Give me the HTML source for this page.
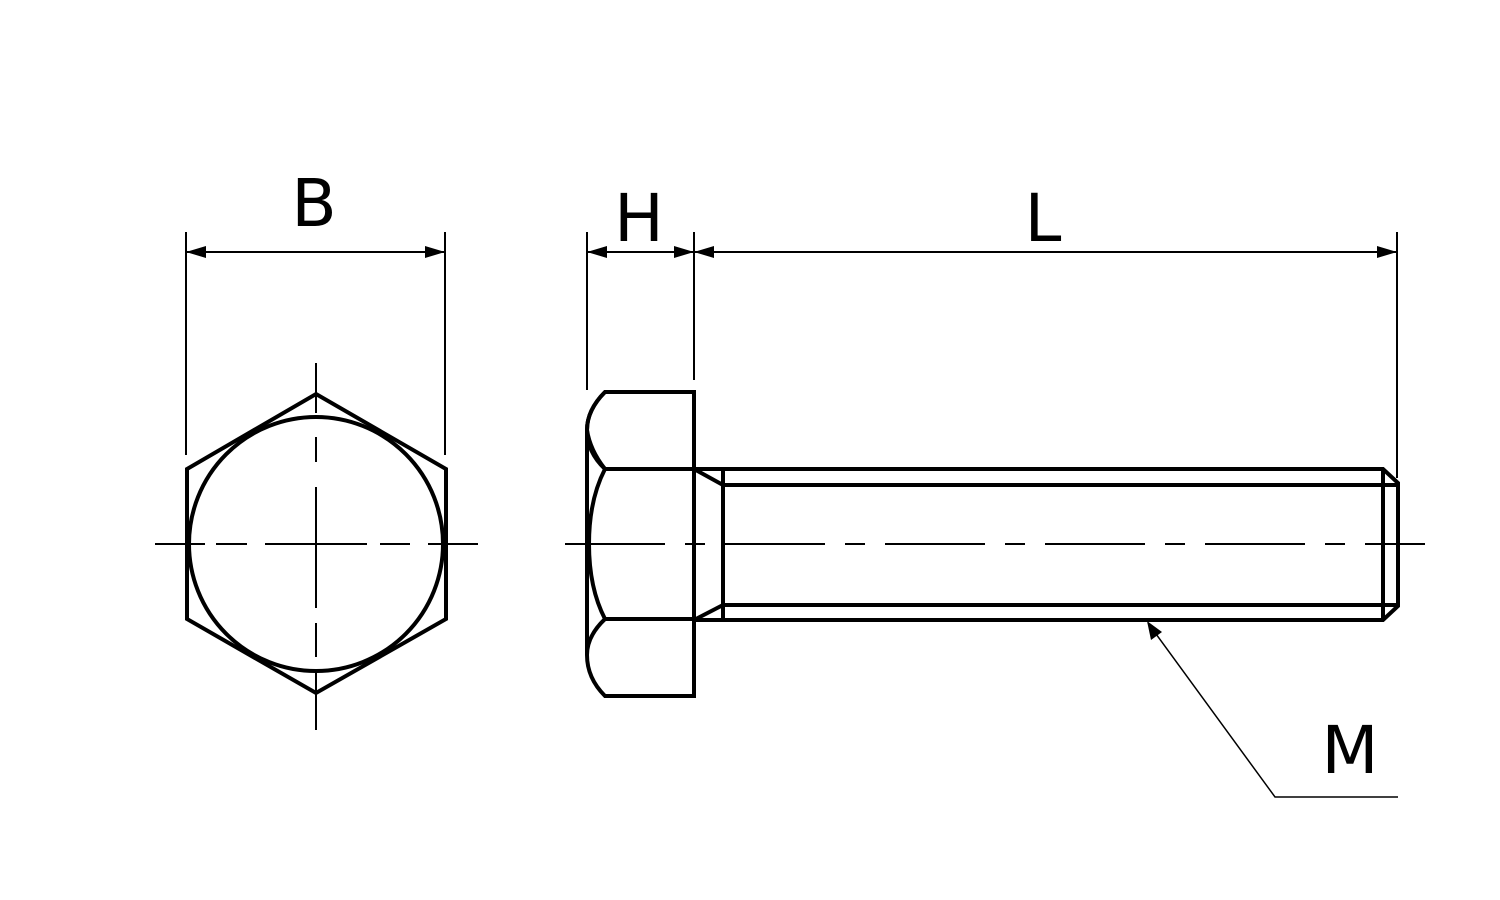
<!DOCTYPE html>
<html><head><meta charset="utf-8"><style>html,body{margin:0;padding:0;background:#fff}svg{display:block}</style></head>
<body>
<svg width="1500" height="900" viewBox="0 0 1500 900" xmlns="http://www.w3.org/2000/svg">
<rect width="1500" height="900" fill="#fff"/>
<g fill="none" stroke="#000" stroke-width="4" stroke-linejoin="miter">
  <!-- hex view -->
  <polygon points="316,394 446,469 446,619 316,693 187,619 187,469"/>
  <circle cx="316" cy="544" r="127"/>
  <!-- side head -->
  <path d="M694,392 L605,392 Q587,410 587,430 L587,655 Q587,678 605,696 L694,696 Z"/>
  <path d="M605,392 Q587,410 587,430 Q587,452 605,469"/>
  <path d="M605,619 Q587,636 587,655"/>
  <path d="M587,430 Q590,450 605,469"/>
  <path d="M605,469 Q589,500 589,544 Q589,588 605,619"/>
  <line x1="605" y1="469" x2="694" y2="469"/>
  <line x1="605" y1="619" x2="694" y2="619"/>
  <!-- shank -->
  <path d="M694,469 L1383,469 L1398,483 L1398,606 L1383,620 L694,620"/>
  <line x1="723" y1="485" x2="1398" y2="485"/>
  <line x1="723" y1="605" x2="1398" y2="605"/>
  <line x1="723" y1="469" x2="723" y2="620"/>
  <line x1="694" y1="469" x2="723" y2="485"/>
  <line x1="694" y1="620" x2="723" y2="605"/>
  <line x1="1383" y1="469" x2="1383" y2="620"/>
</g>
<g stroke="#000" stroke-width="2" fill="none">
  <!-- hex center lines -->
  <path d="M155,544H205M216,544H247M265,544H367M380,544H410M428,544H478"/>
  <path d="M316,363V413M316,437V462M316,487V608M316,623V657M316,673V730"/>
  <!-- side center line -->
  <line x1="565" y1="544" x2="1425" y2="544" stroke-dasharray="100 20 20 20"/>
  <!-- extension lines -->
  <line x1="186" y1="232" x2="186" y2="455"/>
  <line x1="445" y1="232" x2="445" y2="455"/>
  <line x1="587" y1="232" x2="587" y2="390"/>
  <line x1="694" y1="232" x2="694" y2="380"/>
  <line x1="1397" y1="232" x2="1397" y2="478"/>
  <!-- dim lines -->
  <line x1="186" y1="252" x2="445" y2="252"/>
  <line x1="587" y1="252" x2="694" y2="252"/>
  <line x1="694" y1="252" x2="1397" y2="252"/>
  <!-- leader -->
  <polyline points="1148,623 1275,797 1398,797" stroke-width="1.5"/>
</g>
<g fill="#000">
  <polygon points="186,252 206,246 206,258"/>
  <polygon points="445,252 425,246 425,258"/>
  <polygon points="587,252 607,246 607,258"/>
  <polygon points="694,252 674,246 674,258"/>
  <polygon points="694,252 714,246 714,258"/>
  <polygon points="1397,252 1377,246 1377,258"/>
  <polygon points="1147,621 1151,640 1162,632"/>
</g>
<g font-family="'DejaVu Sans','Liberation Sans',sans-serif" font-size="66" fill="#000" text-anchor="middle">
  <text x="314" y="226">B</text>
  <text x="639" y="241">H</text>
  <text x="1043" y="241">L</text>
  <text x="1350" y="773">M</text>
</g>
</svg>
</body></html>
